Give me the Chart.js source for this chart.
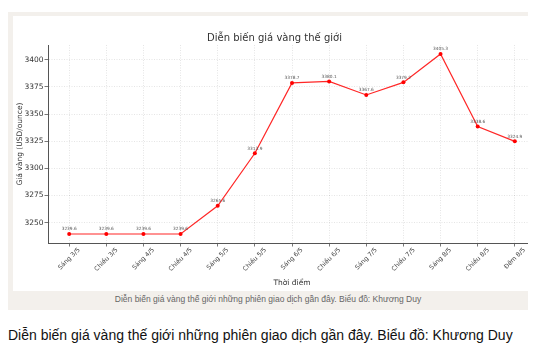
<!DOCTYPE html>
<html>
<head>
<meta charset="utf-8">
<script src="https://cdn.jsdelivr.net/npm/chart.js@4.4.0/dist/chart.umd.min.js"></script>
<style>
  body { margin: 0; background: #fff; width: 554px; height: 352px; position: relative; overflow: hidden; }
  .frame { position: absolute; left: 8px; top: 12px; width: 520px; height: 298px; background: #f3f0ec; overflow: hidden; }
  .plotbox { position: absolute; left: 5px; top: 4px; width: 515px; height: 275px; background: #fff; overflow: hidden; }
  .plotbox canvas { position: absolute; left: 0; top: 0; }
  .caption { position: absolute; left: 0; top: 282px; width: 520px; text-align: center; font: 8.5px "Liberation Sans", Arial, sans-serif; color: #666; }
  .note { position: absolute; left: 8px; top: 327px; font: 14px "Liberation Sans", Arial, sans-serif; color: #111; white-space: nowrap; }
</style>
</head>
<body>
<div class="frame">
  <div class="plotbox"><canvas id="goldChart" width="558" height="275"></canvas></div>
  <div class="caption">Diễn biến giá vàng thế giới những phiên giao dịch gần đây. Biểu đồ: Khương Duy</div>
</div>
<div class="note">Diễn biến giá vàng thế giới những phiên giao dịch gần đây. Biểu đồ: Khương Duy</div>
<script>
const sessions = ['Sáng 3/5', 'Chiều 3/5', 'Sáng 4/5', 'Chiều 4/5', 'Sáng 5/5', 'Chiều 5/5', 'Sáng 6/5',
    'Chiều 6/5', 'Sáng 7/5', 'Chiều 7/5', 'Sáng 8/5', 'Chiều 8/5', 'Đêm 8/5'];
const prices = [3239.6, 3239.6, 3239.6, 3239.6, 3265.6, 3313.9, 3378.7, 3380.1, 3367.6, 3379.2, 3405.3, 3338.6, 3324.9];
const yTicks = [3250, 3275, 3300, 3325, 3350, 3375, 3400];

const FONT = 'DejaVu Sans';

// matplotlib-style labels: rotated 45deg, centred on the tick, plus value annotations
const labelPlugin = {
    id: 'mplLabels',
    afterDatasetsDraw(chart) {
        const ctx = chart.ctx;
        const xs = chart.scales.x;
        const meta = chart.getDatasetMeta(0);

        ctx.save();
        ctx.font = '4.3px "' + FONT + '"';
        ctx.fillStyle = '#555';
        ctx.textAlign = 'center';
        ctx.textBaseline = 'middle';
        meta.data.forEach(function (pt, i) {
            ctx.fillText(prices[i].toFixed(1), pt.x, pt.y - 4.8);
        });
        ctx.restore();

        ctx.save();
        ctx.font = '6.3px "' + FONT + '"';
        ctx.fillStyle = '#444';
        ctx.textAlign = 'center';
        ctx.textBaseline = 'middle';
        sessions.forEach(function (lab, i) {
            const w = ctx.measureText(lab).width;
            const x = xs.getPixelForValue(i);
            const y = xs.top + 3.5 + (w + 7) * 0.3536;
            ctx.save();
            ctx.translate(x, y);
            ctx.rotate(-Math.PI / 4);
            ctx.fillText(lab, 0, 0);
            ctx.restore();
        });
        ctx.restore();
    }
};

const gridOpts = {
    color: 'rgba(0,0,0,0.13)',
    lineWidth: 0.8,
    tickLength: 3.5,
    tickColor: '#555',
    tickWidth: 0.8,
    tickBorderDash: []
};

const canvas = document.getElementById('goldChart');
canvas.chart = new Chart(canvas.getContext('2d'), {
    type: 'line',
    data: {
        datasets: [{
            label: 'Giá vàng',
            data: prices.map(function (v, i) { return { x: i, y: v }; }),
            borderColor: 'rgba(255,0,0,0.85)',
            backgroundColor: 'rgb(255,0,0)',
            borderWidth: 1.2,
            pointRadius: 2,
            pointBorderWidth: 0,
            tension: 0
        }]
    },
    options: {
        responsive: false,
        animation: false,
        layout: { padding: { left: 0, right: 35, top: 0, bottom: 0 } },
        scales: {
            x: {
                type: 'linear',
                min: -0.57,
                max: 12.57,
                afterBuildTicks: function (s) { s.ticks = sessions.map(function (_, i) { return { value: i }; }); },
                afterFit: function (s) { s.height = 48; },
                ticks: { display: false },
                grid: gridOpts,
                border: { display: true, color: '#555', width: 1, dash: [1, 1.5] },
                title: {
                    display: true,
                    text: 'Thời điểm',
                    color: '#333',
                    font: { family: FONT, size: 7.5 },
                    padding: { top: 0, bottom: 3 }
                }
            },
            y: {
                min: 3231.3,
                max: 3413.6,
                afterBuildTicks: function (s) { s.ticks = yTicks.map(function (v) { return { value: v }; }); },
                afterFit: function (s) { s.width = 35; },
                ticks: {
                    color: '#333',
                    padding: 1,
                    font: { family: FONT, size: 7.5 },
                    callback: function (v) { return String(v); }
                },
                grid: gridOpts,
                border: { display: true, color: '#555', width: 1, dash: [1, 1.5] },
                title: {
                    display: true,
                    text: 'Giá vàng (USD/ounce)',
                    color: '#333',
                    font: { family: FONT, size: 7.5 },
                    padding: { top: 3, bottom: 0 }
                }
            }
        },
        plugins: {
            legend: { display: false },
            tooltip: { enabled: false },
            title: {
                display: true,
                text: 'Diễn biến giá vàng thế giới',
                color: '#333',
                font: { family: FONT, size: 10, weight: 'normal' },
                padding: { top: 16, bottom: 1 }
            }
        }
    },
    plugins: [labelPlugin]
});
</script>
</body>
</html>
